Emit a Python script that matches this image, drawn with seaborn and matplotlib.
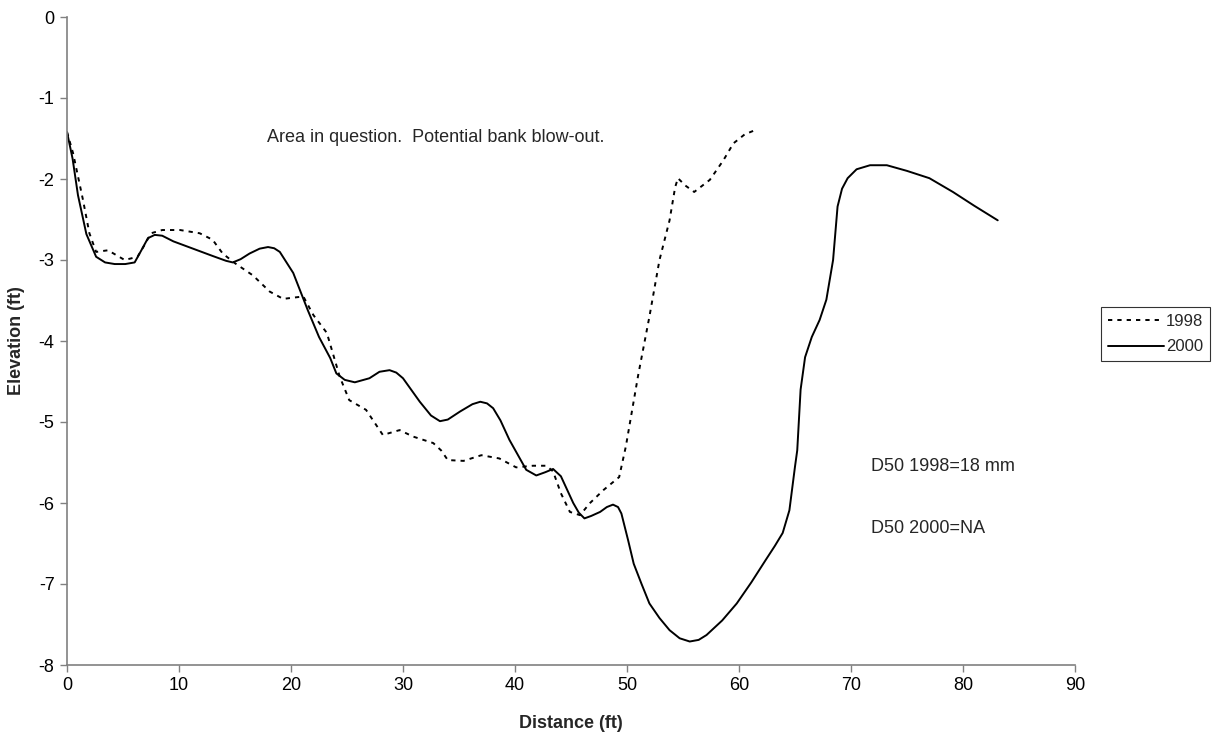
import matplotlib
matplotlib.use("Agg")
import matplotlib.pyplot as plt
import seaborn as sns
import pandas as pd

# Cross-section survey: distance across the channel (ft) vs. bed elevation (ft)
dist_1998 = [0, 0.54, 1.43, 2.0, 2.6, 3.66, 5.15, 6.3, 6.9, 7.5, 8.5, 10.1, 11.85, 13.0,
             13.9, 15.0, 16.6, 18.1, 19.3, 21.1, 22.0, 23.2, 24.35, 25.2, 26.7, 28.2,
             29.7, 30.9, 32.7, 33.4, 34.0, 35.4, 37.0, 38.6, 40.1, 41.6, 42.8, 43.4,
             44.1, 44.9, 45.8, 46.7, 47.9, 49.3, 49.9, 50.2, 51.0, 52.0, 52.9, 53.8,
             54.3, 54.55, 55.2, 56.0, 57.4, 58.6, 59.5, 60.5, 61.55]
elev_1998 = [-1.42, -1.68, -2.26, -2.67, -2.90, -2.88, -3.0, -2.96, -2.82, -2.67, -2.63,
             -2.63, -2.67, -2.75, -2.92, -3.04, -3.19, -3.39, -3.48, -3.45, -3.68, -3.90,
             -4.44, -4.73, -4.85, -5.16, -5.10, -5.18, -5.26, -5.35, -5.47, -5.48, -5.41,
             -5.45, -5.56, -5.54, -5.54, -5.61, -5.88, -6.11, -6.15, -6.0, -5.84, -5.68,
             -5.30, -5.06, -4.42, -3.70, -3.0, -2.51, -2.10, -1.99, -2.08, -2.16, -2.01,
             -1.77, -1.56, -1.45, -1.39]

dist_2000 = [0, 0.5, 0.98, 1.73, 2.6, 3.4, 4.26, 5.2, 6.04, 6.64, 7.23, 7.83, 8.5, 9.5,
             11.25, 13.0, 14.2, 14.8, 15.5, 16.3, 17.2, 17.95, 18.5, 19.0, 20.2, 21.5,
             22.5, 23.5, 24.05, 24.8, 25.7, 27.0, 27.9, 28.8, 29.4, 30.0, 31.5, 32.5,
             33.3, 34.0, 35.1, 36.2, 36.9, 37.5, 38.05, 38.7, 39.5, 41.0, 41.9, 42.7,
             43.4, 44.1, 45.2, 45.7, 46.2, 46.8, 47.6, 48.2, 48.75, 49.2, 49.5, 50.1,
             50.6, 51.3, 52.0, 52.9, 53.8, 54.7, 55.6, 56.4, 57.1, 58.5, 59.8, 61.1,
             62.4, 63.2, 63.9, 64.5, 65.0, 65.2, 65.5, 65.9, 66.5, 67.2, 67.8, 68.4,
             68.8, 69.2, 69.7, 70.5, 71.7, 73.2, 75.0, 77.0, 79.1, 81.0, 83.1]
elev_2000 = [-1.42, -1.75, -2.2, -2.68, -2.96, -3.03, -3.05, -3.05, -3.03, -2.88, -2.73,
             -2.69, -2.70, -2.77, -2.86, -2.95, -3.01, -3.03, -2.99, -2.92, -2.86, -2.84,
             -2.855, -2.90, -3.16, -3.62, -3.95, -4.21, -4.40, -4.48, -4.51, -4.46, -4.38,
             -4.36, -4.39, -4.46, -4.75, -4.92, -4.99, -4.97, -4.87, -4.78, -4.75, -4.77,
             -4.83, -4.98, -5.22, -5.59, -5.66, -5.62, -5.58, -5.67, -6.0, -6.12, -6.19,
             -6.16, -6.11, -6.05, -6.02, -6.05, -6.13, -6.46, -6.75, -7.0, -7.24, -7.42,
             -7.57, -7.67, -7.71, -7.69, -7.63, -7.45, -7.24, -6.98, -6.70, -6.53, -6.37,
             -6.09, -5.55, -5.35, -4.6, -4.2, -3.95, -3.74, -3.49, -3.0, -2.34, -2.12,
             -1.99, -1.88, -1.83, -1.83, -1.90, -1.99, -2.16, -2.33, -2.51]

years = ["1998", "2000"]
x_ticks = list(range(0, 91, 10))
y_ticks = list(range(-8, 1))

df = pd.concat([
    pd.DataFrame({"Distance": dist_1998, "Elevation": elev_1998, "Year": years[0]}),
    pd.DataFrame({"Distance": dist_2000, "Elevation": elev_2000, "Year": years[1]}),
], ignore_index=True)

sns.set_style("white")
plt.rcParams["font.family"] = ["Liberation Sans", "DejaVu Sans"]
plt.rcParams["font.size"] = 13
plt.rcParams["axes.unicode_minus"] = False

dotted = (2.2, 2.6)

fig = plt.figure(figsize=(12.23, 7.35), dpi=100)
ax = fig.add_axes([67 / 1223, 1 - 665 / 735, (1075 - 67) / 1223, (665 - 17) / 735])

sns.lineplot(data=df, x="Distance", y="Elevation", hue="Year", style="Year",
             palette={"1998": "black", "2000": "black"},
             dashes={"1998": dotted, "2000": ""},
             sort=False, estimator=None, linewidth=1.4, legend=False, ax=ax)
for line in ax.lines:
    line.set_solid_joinstyle("round")
    line.set_dash_joinstyle("round")

ax.set_xlim(0, 90)
ax.set_ylim(-8, 0)
ax.set_xticks(x_ticks)
ax.set_yticks(y_ticks)
ax.set_xlabel("Distance (ft)", fontweight="bold", fontsize=13, labelpad=15)
ax.set_ylabel("Elevation (ft)", fontweight="bold", fontsize=13, labelpad=10)

for side in ("top", "right"):
    ax.spines[side].set_visible(False)
for side in ("left", "bottom"):
    ax.spines[side].set_color("#808080")
    ax.spines[side].set_linewidth(1.2)
ax.tick_params(axis="both", direction="out", length=5, width=1.0, color="#808080",
               labelsize=13, labelcolor="black", pad=4)
ax.tick_params(axis="x", bottom=True)
ax.tick_params(axis="y", left=True)

ax.text(17.9, -1.49, "Area in question.  Potential bank blow-out.", fontsize=13,
        va="center", ha="left")
ax.text(71.8, -5.55, "D50 1998=18 mm", fontsize=13, va="center", ha="left")
ax.text(71.8, -6.32, "D50 2000=NA", fontsize=13, va="center", ha="left")

handles = [plt.Line2D([], [], color="black", lw=1.4, linestyle=(0, dotted)),
           plt.Line2D([], [], color="black", lw=1.4)]
leg = fig.legend(handles, years, loc="center left",
                 bbox_to_anchor=(1101 / 1223, 1 - 334 / 735), frameon=True,
                 fancybox=False, edgecolor="black", fontsize=12,
                 handlelength=3.4, handletextpad=0.1, borderpad=0.4,
                 labelspacing=0.65, borderaxespad=0.0)
leg.get_frame().set_linewidth(0.8)

fig.savefig("out.png", dpi=100, facecolor="white")
